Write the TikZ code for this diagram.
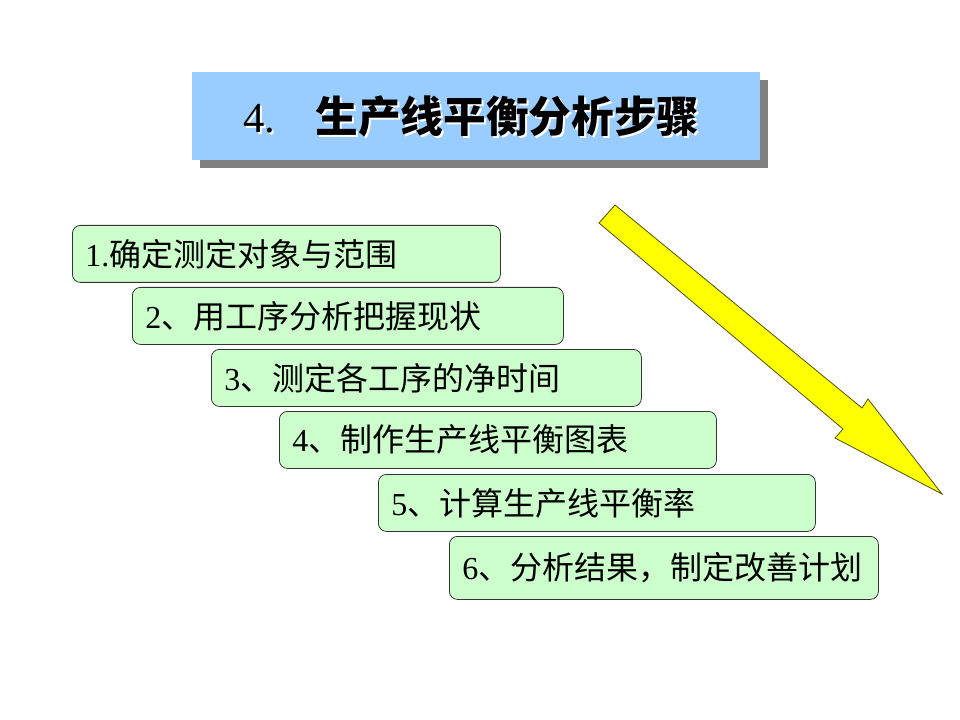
\documentclass[tikz,border=0pt]{standalone}
\usepackage{fontspec}
\setmainfont{Liberation Serif}
\newfontfamily\cjk{Noto Sans CJK SC}
\usetikzlibrary{shadows}

\definecolor{titleblue}{RGB}{153,204,255}
\definecolor{stepgreen}{RGB}{204,255,204}
\definecolor{arrowyellow}{RGB}{255,255,0}
\definecolor{arrowline}{RGB}{80,80,0}

\tikzset{
  stepbox/.style={draw=black!80, line width=0.6pt, fill=stepgreen, rounded corners=6pt,
    anchor=north west, align=left, inner xsep=9.75pt, inner ysep=0pt,
    font=\fontsize{24}{28}\selectfont},
  titlebox/.style={fill=titleblue, minimum width=426pt, minimum height=66pt, inner sep=0pt,
    drop shadow={shadow xshift=6pt, shadow yshift=-6pt, fill=black!50, opacity=1}},
  titletext/.style={inner sep=0pt, font=\fontsize{32}{36}\selectfont}
}

\begin{document}
\begin{tikzpicture}[x=0.75pt, y=-0.75pt]
  \useasboundingbox[fill=white] (0,0) rectangle (960,720);

  % title
  \node[titlebox] (title) at (476,116) {};
  \node[titletext, text=white] (titleglow) at ([xshift=-2pt, yshift=-1.5pt]title.center)
    {4.\hspace{0.95em}{\cjk\bfseries 生产线平衡分析步骤}};
  \node[titletext] (titlelabel) at ([xshift=-3.5pt]title.center)
    {4.\hspace{0.95em}{\cjk\bfseries 生产线平衡分析步骤}};

  % steps
  \foreach \n/\xa/\ya/\xb/\yb/\txt in {
      1/72/225/500/282/{1.\cjk 确定测定对象与范围},
      2/132/287/563/344/{2\cjk 、用工序分析把握现状},
      3/211/349/641/406/{3\cjk 、测定各工序的净时间},
      4/279/411/716/468/{4\cjk 、制作生产线平衡图表},
      5/378/474/815/531/{5\cjk 、计算生产线平衡率},
      6/449/536/878/599/{6\cjk 、分析结果，制定改善计划}} {
    \pgfmathsetmacro\tw{(\xb-\xa)*0.75-19.5}
    \pgfmathsetmacro\th{(\yb-\ya)*0.75}
    \node[stepbox, text width=\tw pt, minimum height=\th pt] (step\n) at (\xa,\ya) {\txt};
  }

  % big arrow
  \draw[fill=arrowyellow, draw=arrowline, line width=0.6pt, line join=miter]
    (615,205) -- (862,408) -- (868,399) -- (942,494) -- (835,438) -- (843,429) -- (599,223) -- cycle;
\end{tikzpicture}
\end{document}
